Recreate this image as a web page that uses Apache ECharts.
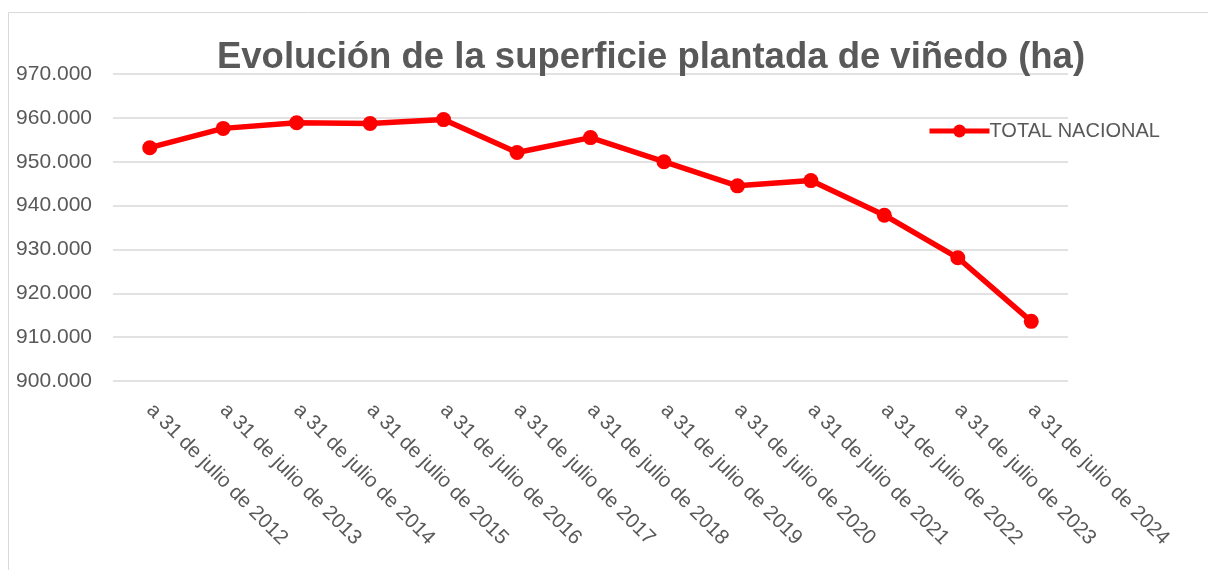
<!DOCTYPE html>
<html>
<head>
<meta charset="utf-8">
<script src="https://cdn.jsdelivr.net/npm/echarts@6/dist/echarts.min.js"></script>
<style>
  html, body { margin: 0; padding: 0; background: #fff; }
  #chart { width: 1208px; height: 570px; }
</style>
</head>
<body>
<div id="chart"></div>
<script>
const years = ['2012', '2013', '2014', '2015', '2016', '2017', '2018', '2019', '2020', '2021', '2022', '2023', '2024']
const categories = years.map(y => 'a 31 de julio de ' + y)
// superficie en ha
const totalNacional = [953200, 957600, 958900, 958700, 959600, 952100, 955500, 950000, 944500, 945700, 937800, 928100, 913600]
const yMin = 900000
const yMax = 970000
const yStep = 10000

const fmt = v => String(Math.round(v)).replace(/\B(?=(\d{3})+(?!\d))/g, '.')

const chart = echarts.init(document.getElementById('chart'), null, { renderer: 'canvas' })
chart.setOption({
  animation: false,
  textStyle: { fontFamily: 'Liberation Sans' },
  graphic: [{
    type: 'rect',
    shape: { x: 8.5, y: 12.5, width: 1220, height: 600 },
    style: { fill: 'none', stroke: '#d9d9d9', lineWidth: 1 }
  }],
  title: {
    text: 'Evolución de la superficie plantada de viñedo (ha)',
    left: 646,
    textAlign: 'center',
    top: 34,
    textStyle: { fontSize: 36.5, fontWeight: 'bold', color: '#595959', fontFamily: 'Liberation Sans' }
  },
  legend: {
    left: 922,
    top: 116,
    itemWidth: 60,
    itemHeight: 16,
    itemGap: 0,
    lineStyle: { width: 5 },
    textStyle: { fontSize: 20, color: '#595959', padding: [0, 0, 0, -5] },
    data: ['TOTAL NACIONAL']
  },
  grid: { left: 113, right: 140, top: 74, bottom: 189, containLabel: false },
  xAxis: {
    type: 'category',
    data: categories,
    boundaryGap: true,
    axisLine: { show: false },
    axisTick: { show: false },
    axisLabel: { rotate: -45, margin: 26, fontSize: 20.5, color: '#595959', interval: 0 }
  },
  yAxis: {
    type: 'value',
    min: yMin,
    max: yMax,
    interval: yStep,
    axisLine: { show: false },
    axisTick: { show: false },
    splitLine: { lineStyle: { color: '#d9d9d9', width: 1.5 } },
    axisLabel: { formatter: fmt, fontSize: 21, color: '#595959', margin: 21 }
  },
  series: [{
    name: 'TOTAL NACIONAL',
    type: 'line',
    data: totalNacional,
    symbol: 'circle',
    symbolSize: 15,
    itemStyle: { color: '#ff0000' },
    lineStyle: { color: '#ff0000', width: 5.5 }
  }]
})
</script>
</body>
</html>
